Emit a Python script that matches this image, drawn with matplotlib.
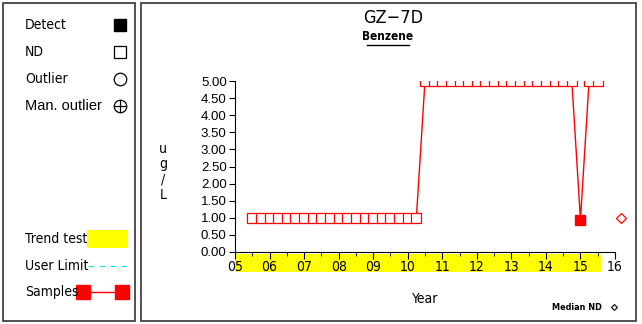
import matplotlib
matplotlib.use("Agg")
import matplotlib.pyplot as plt
from matplotlib import font_manager
from matplotlib.font_manager import FontProperties
from matplotlib.patches import Rectangle

# sample dates (decimal year) and benzene results (ug/L)
nd_low_dates = [2005.5, 2005.75, 2006.0, 2006.25, 2006.5, 2006.75, 2007.0, 2007.25,
                2007.5, 2007.75, 2008.0, 2008.25, 2008.5, 2008.75, 2009.0, 2009.25,
                2009.5, 2009.75, 2010.0, 2010.25]
nd_low_vals = [1.0] * 20
nd_high_dates = [2010.5, 2010.75, 2011.0, 2011.25, 2011.5, 2011.75, 2012.0, 2012.25,
                 2012.5, 2012.75, 2013.0, 2013.25, 2013.5, 2013.75, 2014.0, 2014.25,
                 2014.5, 2014.75]
nd_high_vals = [5.0] * 18
detect_dates = [2015.0]
detect_vals = [0.95]
nd_last_dates = [2015.25, 2015.5]
nd_last_vals = [5.0, 5.0]
median_nd = 1.0
median_x = 2016.16
trend_start, trend_end = 2005.0, 2015.6

year_ticks = list(range(2005, 2017))
year_labels = ["05", "06", "07", "08", "09", "10", "11", "12", "13", "14", "15", "16"]
y_ticks = [0, 0.5, 1, 1.5, 2, 2.5, 3, 3.5, 4, 4.5, 5]

W, H = 642, 324
fig = plt.figure(figsize=(W / 100, H / 100), dpi=100)


def find_font(fname_end):
    for f in font_manager.fontManager.ttflist:
        if f.fname.endswith(fname_end):
            return f.fname
    return None


cond_path = find_font("DejaVuSansCondensed.ttf")
cond_bold_path = find_font("DejaVuSansCondensed-Bold.ttf")


def cfont(size, bold=False):
    p = cond_bold_path if bold else cond_path
    if p:
        return FontProperties(fname=p, size=size)
    return FontProperties(family="DejaVu Sans", size=size, weight="bold" if bold else "normal")


def px(x, y):
    return x / W, 1 - y / H


def fig_marker(x, y, **kw):
    fig.lines.append(plt.Line2D([x / W], [1 - y / H], transform=fig.transFigure, **kw))


def fig_line(x0, x1, y, **kw):
    fig.lines.append(plt.Line2D([x0 / W, x1 / W], [1 - y / H] * 2, transform=fig.transFigure, **kw))


# panel frames
for x0, y0, x1, y1 in [(3, 3, 135, 321), (141, 3, 636, 321)]:
    fig.add_artist(Rectangle(px(x0, y1), (x1 - x0) / W, (y1 - y0) / H,
                             transform=fig.transFigure, fill=False, lw=1.2, ec="#333333"))

# left legend
for label, yy in [("Detect", 25), ("ND", 52), ("Outlier", 79)]:
    fig.text(*px(25, yy), label, fontproperties=cfont(10), va="center")
fig.text(*px(25, 106), "Man. outlier", fontsize=10.5, va="center", family="Liberation Sans")
fig_marker(120, 25, marker="s", ms=9, color="black")
fig_marker(120, 52, marker="s", ms=9, mfc="white", mec="black", mew=0.9)
fig_marker(120, 79, marker="o", ms=9, mfc="white", mec="black", mew=0.9)
fig_marker(120, 106, marker="o", ms=9, mfc="white", mec="black", mew=0.9)
fig_marker(120, 106, marker="+", ms=9, color="black", mew=0.9)

fig.text(*px(25, 239), "Trend test", fontproperties=cfont(10), va="center")
fig.add_artist(Rectangle(px(87, 248), 41 / W, 18 / H, transform=fig.transFigure,
                         fc="yellow", ec="none"))
fig.text(*px(25, 266), "User Limit", fontproperties=cfont(10), va="center")
fig_line(88, 128, 266, color="#00e5ee", lw=0.8, dashes=(5, 5))
fig.text(*px(25, 292), "Samples", fontproperties=cfont(10), va="center")
fig_line(83, 122, 292, color="red", lw=1, marker="s", ms=9.5)

# main axes
ax = fig.add_axes([235 / W, (H - 252) / H, 380 / W, 171 / H])
ax.set_xlim(2005, 2016)
ax.set_ylim(0, 5)
for s in ["top", "right"]:
    ax.spines[s].set_visible(False)

ax.add_patch(Rectangle((trend_start, -0.58), trend_end - trend_start, 0.53,
                       fc="yellow", ec="none", clip_on=False, zorder=1))

all_dates = nd_low_dates + nd_high_dates + detect_dates + nd_last_dates
all_vals = nd_low_vals + nd_high_vals + detect_vals + nd_last_vals
ax.plot(all_dates, all_vals, color="red", lw=1, zorder=3)
nd_d = nd_low_dates + nd_high_dates + nd_last_dates
nd_v = nd_low_vals + nd_high_vals + nd_last_vals
ax.plot(nd_d, nd_v, ls="none", marker="s", ms=6.5, mfc="white", mec="red", mew=0.9, zorder=4)
ax.plot(detect_dates, detect_vals, ls="none", marker="s", ms=6.5, color="red", zorder=4)
ax.plot([median_x], [median_nd], ls="none", marker="D", ms=5.5, mfc="white", mec="red",
        mew=0.9, clip_on=False, zorder=4)

ax.set_yticks(y_ticks)
ax.set_yticklabels([f"{v:.2f}" for v in y_ticks], family="Liberation Sans", fontsize=9.5)
ax.set_xticks(year_ticks)
ax.set_xticklabels(year_labels, fontproperties=cfont(10))
ax.set_xticks([y + 0.5 for y in year_ticks[:-1]], minor=True)
ax.tick_params(axis="x", which="major", direction="out", length=5, pad=1)
ax.tick_params(axis="x", which="minor", direction="out", length=3)
ax.tick_params(axis="y", direction="out", length=4, pad=2)
ax.set_xlabel("Year", fontproperties=cfont(10), labelpad=13)

fig.text(*px(163, 172), "u\ng\n/\nL", fontproperties=cfont(10), ha="center", va="center",
         linespacing=1.15)

fig.text(*px(393, 18), "GZ\u22127D", fontproperties=cfont(13), ha="center", va="center")
fig.text(*px(388, 37), "Benzene", fontproperties=cfont(8.5, bold=True), ha="center", va="center")
fig_line(367, 409, 45, color="black", lw=1)

fig.text(*px(602, 307), "Median ND", fontproperties=cfont(6.5, bold=True), ha="right",
         va="center")
fig_marker(614, 307, marker="D", ms=3, mfc="white", mec="black", mew=0.8)

fig.savefig("out.png", dpi=100)
